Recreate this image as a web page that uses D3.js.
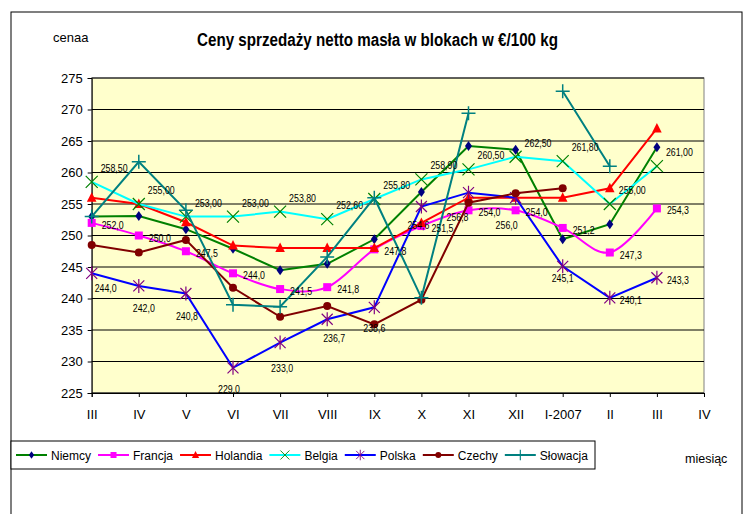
<!DOCTYPE html>
<html><head><meta charset="utf-8">
<script src="https://cdn.jsdelivr.net/npm/d3@7"></script>
<style>
html,body{margin:0;padding:0;background:#fff;}
svg{display:block;font-family:"Liberation Sans",Arial,sans-serif;}
</style></head>
<body>
<svg id="chart" width="746" height="514"></svg>
<script>
// ---- data ----
const categories = ["III","IV","V","VI","VII","VIII","IX","X","XI","XII","I-2007","II","III","IV"];
const yTicks = [225,230,235,240,245,250,255,260,265,270,275];
const seriesNames = ["Niemcy","Francja","Holandia","Belgia","Polska","Czechy","Słowacja"];
const niemcy   = [253.0, 253.1, 251.0, 247.9, 244.5, 245.5, 249.4, 256.9, 264.2, 263.6, 249.4, 251.8, 264.0];
const francja  = [252.0, 250.0, 247.5, 244.0, 241.5, 241.8, 247.8, 251.5, 254.0, 254.0, 251.2, 247.3, 254.3];
const holandia = [256.0, 255.0, 252.1, 248.4, 248.0, 248.0, 248.0, 252.0, 256.0, 256.0, 256.0, 257.5, 267.0];
const belgia   = [258.5, 255.0, 253.0, 253.0, 253.8, 252.6, 255.8, 258.9, 260.5, 262.5, 261.8, 255.0, 261.0];
const polska   = [244.0, 242.0, 240.8, 229.0, 233.0, 236.7, 238.6, 254.6, 256.8, 256.0, 245.1, 240.1, 243.3];
const czechy   = [248.5, 247.3, 249.3, 241.7, 237.1, 238.8, 235.9, 239.8, 255.2, 256.7, 257.5, null, null];
const slowacja = [253.0, 261.7, 254.0, 239.0, 238.7, 246.6, 256.0, 240.1, 269.4, null, 272.9, 261.0, null];

// ---- styles / layout (kept separate from the data) ----
const styles = [
  {line:"#008000", marker:"diamond", mcol:"#000080", data:niemcy},
  {line:"#FF00FF", marker:"square", mcol:"#FF00FF", data:francja, smooth:true, label:"right", dec:1},
  {line:"#FF0000", marker:"triangle", mcol:"#FF0000", data:holandia},
  {line:"#00FFFF", marker:"x", mcol:"#008000", data:belgia, label:"above", dec:2},
  {line:"#0000FF", marker:"star", mcol:"#800080", data:polska, label:"below", dec:1},
  {line:"#800000", marker:"circle", mcol:"#800000", data:czechy},
  {line:"#008080", marker:"plus", mcol:"#008080", data:slowacja}
];
const polskaLabelPos = ["below","below","below","below","below","below","below","below","below","below","below","right","right"];
const polskaLabelDx  = [14, 5, 1, -4, 2, 7, 0, -3, -11, -9, 0, 0, 0];
const polskaLabelDy  = [19, 26, 27, 25, 29, 23, 25, 22, 28, 31, 16, 0, 0];

const svg = d3.select("#chart");
const L = 91.7, R = 704, T = 78, B = 393;
const x = d3.scalePoint().domain(d3.range(categories.length)).range([L, R]);
const y = d3.scaleLinear().domain([225, 275]).range([B, T]);

// outer frame
svg.append("rect").attr("x",11).attr("y",12).attr("width",731).attr("height",520)
  .attr("fill","#fff").attr("stroke","#000").attr("stroke-width",1);

// plot area
svg.append("rect").attr("x",L).attr("y",T).attr("width",R-L).attr("height",B-T)
  .attr("fill","#FFFFCC").attr("stroke","#808080").attr("stroke-width",1);

// gridlines
svg.append("g").selectAll("line").data(yTicks).join("line")
  .attr("x1",L).attr("x2",R).attr("y1",d=>y(d)).attr("y2",d=>y(d))
  .attr("stroke","#000").attr("stroke-width",1);

// y axis
const yAxis = svg.append("g").attr("transform",`translate(${L},0)`)
  .call(d3.axisLeft(y).tickValues(yTicks).tickSize(4).tickPadding(5).tickFormat(d3.format("d")));
yAxis.select(".domain").attr("stroke","#000");
yAxis.selectAll("text").attr("font-size","13px").attr("fill","#000")
  .attr("font-family","Liberation Sans, Arial, sans-serif");

// x axis
const xAxis = svg.append("g").attr("transform",`translate(0,${B})`)
  .call(d3.axisBottom(x).tickSize(4).tickPadding(13).tickFormat(i=>categories[i]));
xAxis.select(".domain").attr("stroke","#000");
xAxis.selectAll("text").attr("font-size","13px").attr("fill","#000")
  .attr("font-family","Liberation Sans, Arial, sans-serif");

// title & axis names
svg.append("text").attr("x",377.5).attr("y",46).attr("text-anchor","middle")
  .attr("font-weight","bold").attr("font-size","18px")
  .attr("textLength",361).attr("lengthAdjust","spacingAndGlyphs")
  .text("Ceny sprzedaży netto masła w blokach w €/100 kg");
svg.append("text").attr("x",53).attr("y",42).attr("font-size","13px").text("cenaa");
svg.append("text").attr("x",685).attr("y",463).attr("font-size","12.5px").text("miesiąc");

// marker drawing
function drawMarker(g, type, col){
  switch(type){
    case "diamond": g.append("path").attr("d","M0,-5L3.5,0L0,5L-3.5,0Z").attr("fill",col); break;
    case "square": g.append("rect").attr("x",-4).attr("y",-4).attr("width",8).attr("height",8).attr("fill",col); break;
    case "triangle": g.append("path").attr("d","M0,-5.5L4.8,4L-4.8,4Z").attr("fill",col); break;
    case "x": g.append("path").attr("d","M-6,-6L6,6M-6,6L6,-6").attr("stroke",col).attr("stroke-width",1.2).attr("fill","none"); break;
    case "star": g.append("path").attr("d","M-5.5,-5.5L5.5,5.5M-5.5,5.5L5.5,-5.5M0,-7L0,7").attr("stroke",col).attr("stroke-width",1.2).attr("fill","none"); break;
    case "circle": g.append("circle").attr("r",4).attr("fill",col); break;
    case "plus": g.append("path").attr("d","M-7,0L7,0M0,-7L0,7").attr("stroke",col).attr("stroke-width",1.5).attr("fill","none"); break;
  }
}

// series
const seriesG = svg.append("g");
styles.forEach(s=>{
  const pts = s.data.map((v,i)=>({i,v}));
  const line = d3.line().defined(d=>d.v!=null).x(d=>x(d.i)).y(d=>y(d.v))
    .curve(s.smooth ? d3.curveCardinal.tension(0) : d3.curveLinear);
  const g = seriesG.append("g");
  g.append("path").attr("d",line(pts)).attr("fill","none").attr("stroke",s.line).attr("stroke-width",2);
  pts.filter(d=>d.v!=null).forEach(d=>{
    const m = g.append("g").attr("transform",`translate(${x(d.i)},${y(d.v)})`);
    drawMarker(m, s.marker, s.mcol);
  });
});

// data labels
const labelsG = svg.append("g").attr("font-size","11px").attr("fill","#000");
function fmt(v,dec){ return v.toFixed(dec).replace(".",","); }
styles.forEach(s=>{
  if(!s.label) return;
  s.data.forEach((v,i)=>{
    if(v==null) return;
    let pos = s.label, ex = 0, ey = 25;
    if(s.data===polska){ pos = polskaLabelPos[i]; ex = polskaLabelDx[i]; ey = polskaLabelDy[i]; }
    let px = x(i), py = y(v), anchor = "start";
    if(pos==="right"){ px += 10; py += 6; }
    else if(pos==="above"){ px += 9; py -= 10; }
    else if(pos==="below"){ px += ex; py += ey; anchor = "middle"; }
    labelsG.append("text").attr("text-anchor",anchor)
      .attr("transform",`translate(${px},${py}) scale(0.8,1)`)
      .text(fmt(v,s.dec));
  });
});

// legend
const lg = svg.append("g");
lg.append("rect").attr("x",11).attr("y",441).attr("width",584).attr("height",28)
  .attr("fill","#fff").attr("stroke","#000").attr("stroke-width",1);
let lx = 16;
styles.forEach((s,k)=>{
  lg.append("line").attr("x1",lx).attr("x2",lx+31).attr("y1",455).attr("y2",455)
    .attr("stroke",s.line).attr("stroke-width",2);
  const m = lg.append("g").attr("transform",`translate(${lx+15.5},455) scale(0.75)`);
  drawMarker(m, s.marker, s.mcol);
  const t = lg.append("text").attr("x",lx+35).attr("y",459.5).attr("font-size","12px").text(seriesNames[k]);
  lx = lx + 35 + t.node().getComputedTextLength() + 7;
});
</script>
</body></html>
